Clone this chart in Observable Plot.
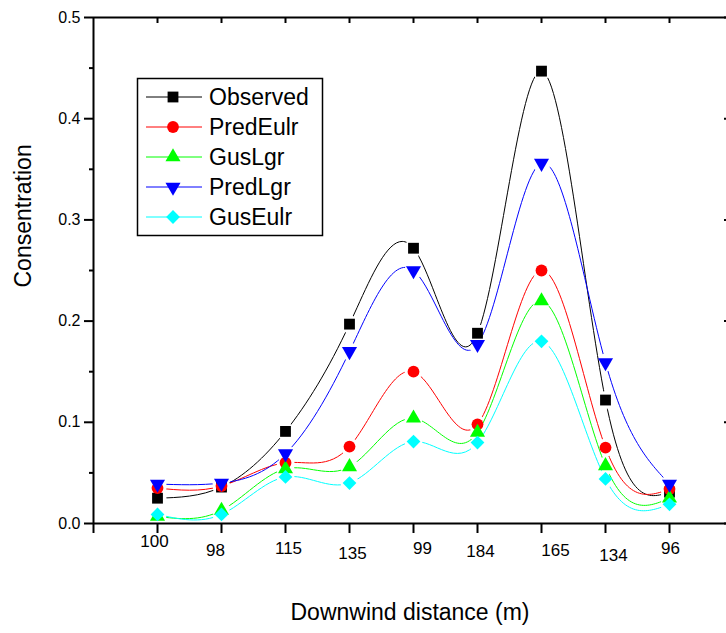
<!DOCTYPE html>
<html><head><meta charset="utf-8">
<script src="https://cdn.jsdelivr.net/npm/d3@7"></script>
<script src="https://cdn.jsdelivr.net/npm/@observablehq/plot@0.6"></script>
<style>
html,body{margin:0;padding:0;background:#fff;overflow:hidden}
#chart{position:relative;width:726px;height:633px}
</style></head><body><div id="chart"></div>
<script>
const categories = ["100","98","115","135","99","184","165","134","96"];
const observed = [0.025,0.036,0.091,0.197,0.272,0.188,0.447,0.122,0.031];
const predEulr = [0.035,0.037,0.060,0.076,0.150,0.098,0.250,0.075,0.034];
const gusLgr   = [0.007,0.013,0.054,0.056,0.104,0.090,0.220,0.057,0.025];
const predLgr  = [0.039,0.040,0.069,0.170,0.250,0.177,0.356,0.159,0.039];
const gusEulr  = [0.009,0.009,0.046,0.040,0.081,0.080,0.180,0.044,0.019];
const seriesNames = ["Observed","PredEulr","GusLgr","PredLgr","GusEulr"];
const yMajor = [0,0.1,0.2,0.3,0.4,0.5];
const yMinor = [0.05,0.15,0.25,0.35,0.45];

// styling (not data)
const colors = ["#000000","#ff0000","#00ff00","#0000ff","#00ffff"];
const symbols = ["square","circle","triangle","triangle","diamond2"];
const rotations = [0,0,0,180,0];
const symR = [6.1,5.9,5.6,5.6,6.2];
const gapR = 9;
const labelNudge = [[-3,18],[-6,27],[3,25],[3,30],[9,25],[3,28],[14,27],[8,32],[1,25]];
const FONT = "Liberation Sans, Arial, sans-serif";

const seriesValues = [observed, predEulr, gusLgr, predLgr, gusEulr];
const rows = [];
seriesValues.forEach((vals, s) => vals.forEach((v, i) => rows.push({series: seriesNames[s], s, i: i + 1, value: v})));
const idx = categories.map((c, i) => i + 1);

const marks = [
  ...seriesNames.map((name, s) =>
    Plot.line(rows.filter(d => d.s === s), {x: "i", y: "value", stroke: colors[s], curve: "natural", strokeWidth: 1})),
  ...seriesNames.map((name, s) =>
    Plot.dot(rows.filter(d => d.s === s), {x: "i", y: "value", fill: colors[s], stroke: "none",
      symbol: () => symbols[s], r: symR[s], rotate: rotations[s]})),
  // axis lines
  Plot.ruleY([0, 0.5], {x1: () => 0, x2: () => 10, stroke: "black", strokeWidth: 2}),
  Plot.ruleX([0], {y1: () => 0, y2: () => 0.5, stroke: "black", strokeWidth: 2}),
  Plot.axisY({anchor: "left", ticks: yMajor, tickSize: 9, tickPadding: 4, strokeWidth: 2,
    tickFormat: d3.format(".1f"), fontSize: 16, fill: "black", label: null}),
  Plot.axisY({anchor: "left", ticks: yMinor, tickSize: 4, strokeWidth: 2, tickFormat: () => "", label: null}),
  Plot.axisY({anchor: "right", ticks: yMajor, tickSize: 3, dx: -3, strokeWidth: 2, tickFormat: () => "", label: null}),
  Plot.axisX({anchor: "bottom", ticks: [0, ...idx], tickSize: 10, strokeWidth: 2, tickFormat: () => "", label: null}),
  Plot.axisX({anchor: "top", ticks: idx, tickSize: 5, dy: 5, strokeWidth: 2, tickFormat: () => "", label: null}),
  ...categories.map((c, i) => Plot.text([c], {x: () => i + 1, y: () => 0, text: d => d,
    dx: labelNudge[i][0], dy: labelNudge[i][1], fontSize: 17, fill: "black", textAnchor: "middle", lineAnchor: "middle"})),
  Plot.text(["Downwind distance (m)"], {frameAnchor: "bottom", dy: 89, text: d => d, fontSize: 23, fill: "black", lineAnchor: "middle"}),
  Plot.text(["Consentration"], {frameAnchor: "left", dx: -70, dy: 17, rotate: -90, text: d => d, fontSize: 23, fill: "black", lineAnchor: "middle"})
];

const chart = Plot.plot({
  width: 726, height: 633,
  marginLeft: 93, marginRight: 0, marginTop: 17, marginBottom: 110,
  style: {fontFamily: FONT, background: "white", color: "black"},
  x: {domain: [0, 10], range: [93, 733]},
  y: {domain: [0, 0.5]},
  marks
});
document.getElementById("chart").appendChild(chart);

const svg = d3.select(chart);
// gaps in each curve around its own symbols (Origin style)
const xs = chart.scale("x"), ys = chart.scale("y");
const xf = v => xs.range[0] + (xs.range[1] - xs.range[0]) * (v - xs.domain[0]) / (xs.domain[1] - xs.domain[0]);
const yf = v => ys.range[0] + (ys.range[1] - ys.range[0]) * (v - ys.domain[0]) / (ys.domain[1] - ys.domain[0]);
const defs = svg.insert("defs", ":first-child");
const lineGroups = svg.selectAll("g").filter(function () { return this.getAttribute("aria-label") === "line"; }).nodes();
seriesValues.forEach((vals, s) => {
  const m = defs.append("mask").attr("id", "gapmask" + s).attr("maskUnits", "userSpaceOnUse")
    .attr("x", 0).attr("y", 0).attr("width", 726).attr("height", 633);
  m.append("rect").attr("x", 0).attr("y", 0).attr("width", 726).attr("height", 633).attr("fill", "white");
  vals.forEach((v, i) => m.append("circle").attr("cx", xf(i + 1)).attr("cy", yf(v)).attr("r", gapR).attr("fill", "black"));
  const g = lineGroups[s];
  if (g) d3.select(g).selectAll("path").attr("mask", `url(#gapmask${s})`);
});

// legend
const lg = svg.append("g").attr("font-family", FONT).attr("text-anchor", "start");
lg.append("rect").attr("x", 137.5).attr("y", 78.5).attr("width", 185).attr("height", 157)
  .attr("fill", "white").attr("stroke", "black").attr("stroke-width", 1.5);
const symMap = {square: d3.symbolSquare, circle: d3.symbolCircle, triangle: d3.symbolTriangle, diamond2: d3.symbolDiamond2};
seriesNames.forEach((name, s) => {
  const y = 97 + 30 * s;
  lg.append("line").attr("x1", 146).attr("x2", 202).attr("y1", y).attr("y2", y).attr("stroke", colors[s]).attr("stroke-width", 1);
  lg.append("path").attr("d", d3.symbol(symMap[symbols[s]], Math.PI * symR[s] * symR[s])())
    .attr("transform", `translate(173,${y}) rotate(${rotations[s]})`).attr("fill", colors[s]);
  lg.append("text").attr("x", 209).attr("y", y).attr("dy", "0.35em").attr("font-size", 23)
    .attr("text-anchor", "start").attr("fill", "black").text(name);
});
</script></body></html>
